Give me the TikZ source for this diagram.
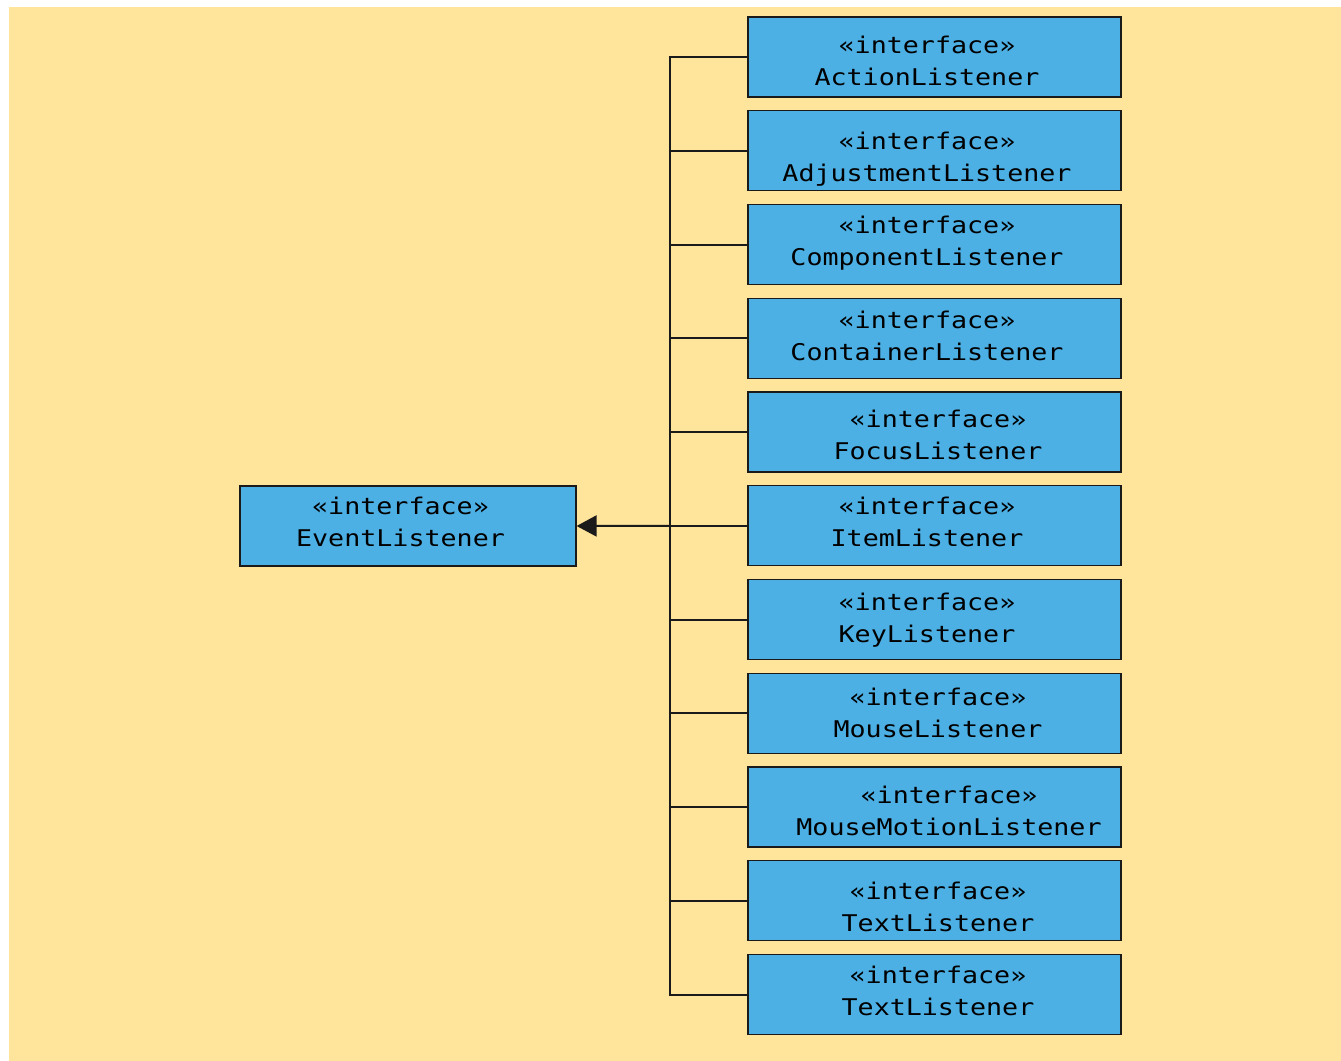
\documentclass[tikz,border=0pt]{standalone}
\usepackage{fontspec}
\newfontfamily\umlmono[FakeStretch=1.16]{DejaVu Sans Mono}
\usetikzlibrary{arrows.meta}
\definecolor{paper}{RGB}{255,228,155}
\definecolor{ifacefill}{RGB}{77,176,228}
\definecolor{ink}{RGB}{26,26,26}
% fixed-height line so every two-line label sits the same way
\newcommand\linestrut{\rule[-3pt]{0pt}{12pt}}
\newcommand\ifacelabel[1]{\linestrut«interface»\\\linestrut#1}

\begin{document}
\begin{tikzpicture}[x=0.5pt,y=-0.5pt,
  ifacebox/.style={draw=ink, line width=0.6pt, fill=ifacefill,
    minimum width=186.5pt, minimum height=40pt, inner sep=0pt},
  basebox/.style={ifacebox, minimum width=168pt},
  ifacetext/.style={align=center, inner sep=0pt, text=black,
    font=\umlmono\fontsize{11.5pt}{16pt}\selectfont},
  wire/.style={draw=ink, line width=1pt}]
\useasboundingbox (0,0) rectangle (1341,1061);
\fill[paper] (9,7) rectangle (1341,1061);

% the super-interface
\node[basebox] (ev) at (408,526) {};
\node[ifacetext] (evt) at (400.5,524) {\ifacelabel{EventListener}};

% the listener sub-interfaces, stacked on the right
\foreach \i/\name/\tx/\ty in {
  1/ActionListener/927/63,
  2/AdjustmentListener/927/159,
  3/ComponentListener/927/243,
  4/ContainerListener/927/338,
  5/FocusListener/938/437,
  6/ItemListener/927/524,
  7/KeyListener/927/620,
  8/MouseListener/938/715,
  9/MouseMotionListener/949/813,
  10/TextListener/938/909,
  11/TextListener/938/993} {
  \node[ifacebox] (b\i) at (934.5,{57+93.75*(\i-1)}) {};
  \node[ifacetext] (t\i) at (\tx,\ty) {\ifacelabel{\name}};
  \coordinate (j\i) at (670,{57+93.75*(\i-1)});
}

% shared generalization bus, with the end branches joined to it
\draw[wire, line join=miter] (b1.west) -- (j1) -- (j11) -- (b11.west);
\foreach \i in {2,...,10} {
  \draw[wire] (j\i) -- (b\i.west);
}
\draw[wire, -{Triangle[length=10pt,width=10.5pt]}] (j6) -- (ev.east);
\end{tikzpicture}
\end{document}
